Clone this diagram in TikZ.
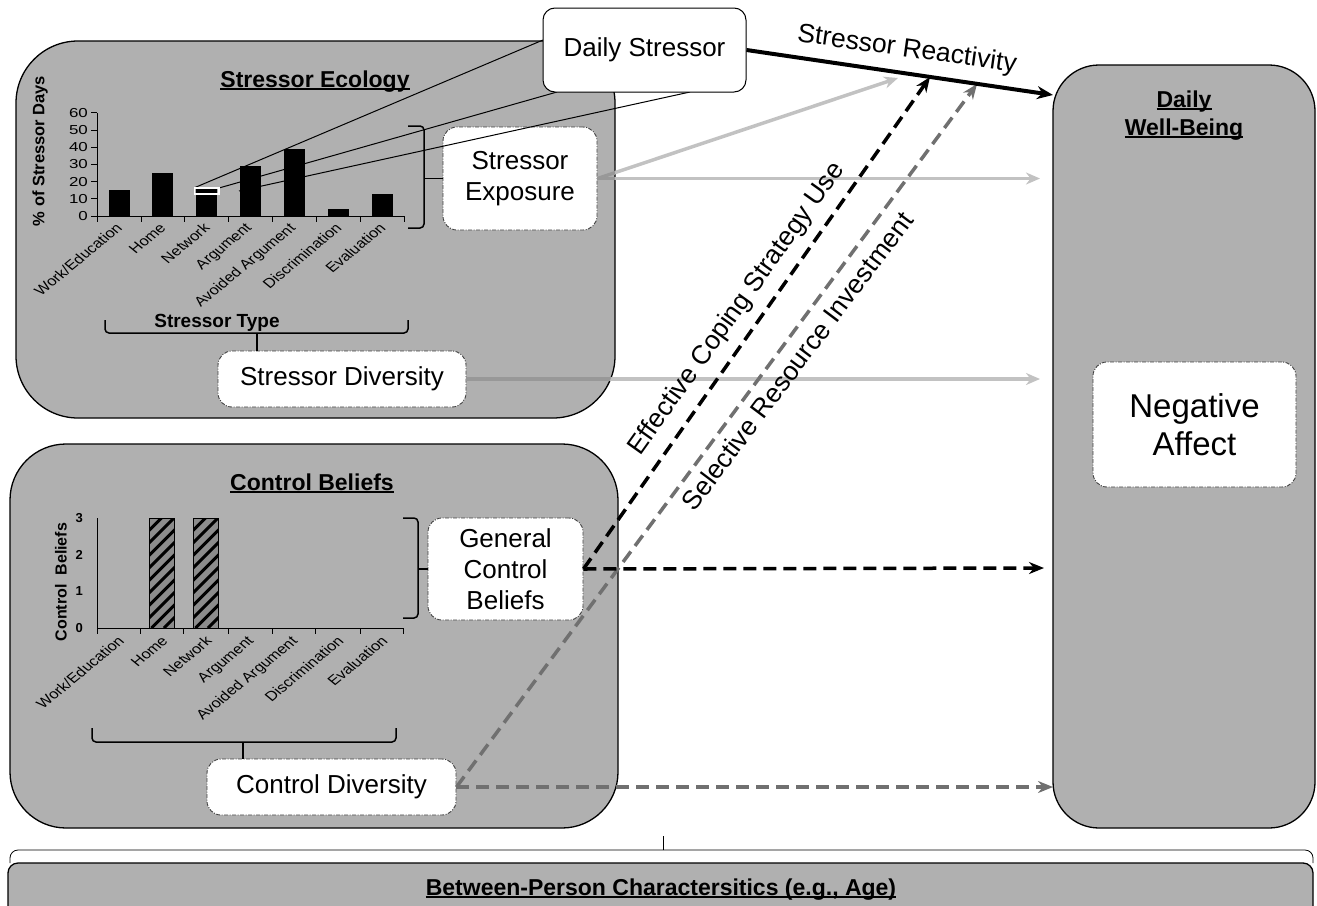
\documentclass[tikz,border=0pt]{standalone}
\usepackage{fontspec}
\setmainfont{Liberation Sans}
\usetikzlibrary{arrows.meta}
\definecolor{boxgray}{RGB}{176,176,176}
\definecolor{lightarr}{RGB}{194,194,194}
\definecolor{lightarrdark}{RGB}{152,152,152}
\definecolor{dashgray}{RGB}{112,112,112}
\definecolor{hatchgray}{RGB}{140,140,140}
\newcommand{\myul}[1]{\setbox0=\hbox{#1}\rlap{\rule[-3pt]{\wd0}{1.6pt}}\box0}
\newcommand{\catrot}[1]{\scalebox{1.22}[1]{\rotatebox{45}{#1}}}
\newcommand{\catlabels}[2]{%
  \node[catlbl] (#2a) at ({118.5+#1},#2) {\catrot{Work/Education}};
  \node[catlbl] (#2b) at ({162+#1},#2) {\catrot{Home}};
  \node[catlbl] (#2c) at ({206+#1},#2) {\catrot{Network}};
  \node[catlbl] (#2d) at ({250+#1},#2) {\catrot{Argument}};
  \node[catlbl] (#2e) at ({294+#1},#2) {\catrot{Avoided Argument}};
  \node[catlbl] (#2f) at ({338+#1},#2) {\catrot{Discrimination}};
  \node[catlbl] (#2g) at ({382+#1},#2) {\catrot{Evaluation}};
}
\begin{document}
\begin{tikzpicture}[x=1pt,y=-1pt,
  grp/.style={draw=black, line width=1.3pt, fill=boxgray},
  dbox/.style={draw=black!75, fill=white, rounded corners=14pt, line width=0.9pt,
    dash pattern=on 4pt off 1.5pt on 1pt off 1.5pt, align=center,
    font=\fontsize{26}{31}\selectfont, inner sep=0pt},
  sbox/.style={draw=black, fill=white, rounded corners=12pt, line width=1pt,
    font=\fontsize{26}{31}\selectfont, inner sep=0pt},
  title/.style={font=\bfseries\fontsize{23}{28}\selectfont, anchor=base, inner sep=0pt},
  catlbl/.style={font=\fontsize{13.5}{13.5}\selectfont, anchor=north east, inner sep=0pt},
  tick/.style={font=\fontsize{13}{13}\selectfont, anchor=east, inner sep=1pt},
  btick/.style={font=\bfseries\fontsize{13}{13}\selectfont, anchor=east, inner sep=1pt},
  axlbl/.style={font=\bfseries\fontsize{16.5}{16.5}\selectfont, rotate=90, inner sep=0pt},
  brace/.style={line width=1.5pt, rounded corners=4pt},
  lightarrow/.style={draw=lightarr, line width=3.5pt, -{Stealth[length=14pt,width=12pt]}},
  blkdash/.style={draw=black, line width=3.5pt, dash pattern=on 13pt off 7pt, -{Stealth[length=15pt,width=12pt]}},
  graydash/.style={draw=dashgray, line width=3.5pt, dash pattern=on 13pt off 7pt, -{Stealth[length=15pt,width=12pt]}},
  arrlbl/.style={font=\fontsize{26.5}{26.5}\selectfont, inner sep=0pt}
]
\useasboundingbox (0,0) rectangle (1317,905);
\clip (0,0) rectangle (1317,905);

% ---------- large grey panels ----------
\draw[grp, rounded corners=62pt] (16,41) rectangle (615,418);
\draw[grp, rounded corners=56pt] (10,444) rectangle (618,828);
\draw[grp, rounded corners=46pt] (1053,65) rectangle (1315,828);
\draw[grp, rounded corners=10pt] (8,863) rectangle (1313,940);

% ---------- titles ----------
\node[title] (t1) at (315,87) {\myul{Stressor Ecology}};
\node[title] (t2) at (312,490) {\myul{Control Beliefs}};
\node[title] (t3) at (1184,107) {\myul{Daily}};
\node[title] (t4) at (1184,135) {\myul{Well-Being}};
\node[title] (t5) at (661,895) {\myul{Between-Person Charactersitics (e.g., Age)}};

% ---------- white concept boxes ----------
\node[dbox, minimum width=154pt, minimum height=103pt] (se) at (520,178.5) {Stressor\\Exposure};
\node[dbox, minimum width=248pt, minimum height=56pt] (sd) at (342,379) {Stressor Diversity};
\node[dbox, minimum width=155pt, minimum height=102pt] (gcb) at (505.5,569) {General\\Control\\Beliefs};
\node[dbox, minimum width=249pt, minimum height=56pt] (cd) at (331.5,787) {Control Diversity};
\node[dbox, minimum width=203pt, minimum height=125pt, font=\fontsize{33}{38}\selectfont] (na) at (1194.5,424.5) {Negative\\Affect};

% ---------- lines from Daily Stressor to the chart ----------
\coordinate (dsA) at (543,40);
\coordinate (dsB) at (557,92);
\coordinate (dsC) at (690,92);
\coordinate (nw1) at (195,187.5);
\coordinate (nw2) at (219,188);
\coordinate (nw3) at (239,191);
\draw[line width=1pt] (nw1) -- (dsA);
\draw[line width=1pt] (nw2) -- (dsB);
\draw[line width=1pt] (nw3) -- (dsC);

% ---------- chart 1: stressor ecology ----------
\draw[line width=1pt] (97,113) -- (97,216) -- (404,216);
\foreach \v in {0,...,6} {
  \draw[line width=1pt] (91,{216-17.2*\v}) -- (97,{216-17.2*\v});
  \node[tick] (ya\v) at (89,{216-17.2*\v}) {\scalebox{1.3}[1]{\the\numexpr\v*10\relax}};
}
\foreach \x in {97,141,184,228,272,316,360,404}
  \draw[line width=1pt] (\x,216) -- (\x,222);
\foreach \c/\v in {119/15,162.5/25,250/29,294/39,338/4,382/13}
  \fill[black] ({\c-10.5},216) rectangle ({\c+10.5},{216-1.72*\v});
\fill[black] (196,216) rectangle (217,187.5);
\draw[white, line width=1.3pt] (194.5,188) rectangle (219,194);
\node[axlbl] (yl1) at (40,151) {\% of Stressor Days};
\catlabels{5}{222}
\node[title, font=\bfseries\fontsize{19}{19}\selectfont] (stype) at (217,327) {Stressor Type};

% brace to Stressor Exposure
\draw[brace] (408,126) -| (424,178.5) |- (408,228);
\draw[line width=1.5pt] (424,178.5) -- (se.west);
% brace to Stressor Diversity
\draw[brace] (105,320) |- (257,333) -| (408,320);
\draw[line width=1.5pt] (257,333) -- (sd.north -| 257,333);

% ---------- chart 2: control beliefs ----------
\draw[line width=1pt] (97,518) -- (97,628) -- (403,628);
\foreach \x in {97,140,183,228,272,315,360,403}
  \draw[line width=1pt] (\x,628) -- (\x,634);
\foreach \v in {0,...,3}
  \node[btick] (yb\v) at (84,{628-36.7*\v}) {\v};
\foreach \xa in {149,193} {
  \begin{scope}
    \clip (\xa,518) rectangle ({\xa+25},628);
    \fill[hatchgray] (\xa,518) rectangle ({\xa+25},628);
    \foreach \k in {0,...,11}
      \draw[line width=3pt] ({\xa-110+\k*12.5},628) -- ({\xa+\k*12.5},518);
  \end{scope}
  \draw[line width=1pt] (\xa,518) rectangle ({\xa+25},628);
}
\node[axlbl, font=\bfseries\fontsize{16}{16}\selectfont] (yl2) at (61,582) {Control\ \ Beliefs};
\catlabels{7}{635}

% brace to General Control Beliefs
\draw[brace] (403,518) -| (418,569) |- (403,618);
\draw[line width=1.5pt] (418,569) -- (gcb.west);
% brace to Control Diversity
\draw[brace] (92,728) |- (243,742) -| (396,728);
\draw[line width=1.5pt] (243,742) -- (cd.north -| 243,742);

% ---------- between-person brace ----------
\draw[line width=0.8pt, rounded corners=8pt] (10,863) |- (663,850) -| (1313,863);
\draw[line width=0.8pt] (663,850) -- (663,836);

% ---------- Daily Stressor ----------
\node[sbox, minimum width=203pt, minimum height=84pt] (ds) at (644.5,50) {Daily Stressor};

% ---------- arrow end points ----------
\coordinate (wbR) at (1053,95);
\coordinate (wbSE) at (1040,178.5);
\coordinate (wbSD) at (1040,379);
\coordinate (wbGCB) at (1044,568);
\coordinate (wbCD) at (1053,787);
\coordinate (sr1) at (898,78);
\coordinate (sr2) at (930,77);
\coordinate (sr3) at (977,84);

% light grey arrows
\draw[lightarrow] (se.east) -- (wbSE);
\draw[lightarrow] (se.east) -- (sr1);
\draw[lightarrow] (sd.east) -- (wbSD);
\begin{scope}
  \clip[rounded corners=62pt] (16,41) rectangle (615,418);
  \draw[draw=lightarrdark, line width=3.5pt] (se.east) -- (wbSE);
  \draw[draw=lightarrdark, line width=3.5pt] (se.east) -- (sr1);
  \draw[draw=lightarrdark, line width=3.5pt] (sd.east) -- (wbSD);
\end{scope}

% dashed arrows
\draw[graydash] (cd.east) -- (sr3);
\draw[graydash] (cd.east) -- (wbCD);
\draw[blkdash] (gcb.east) -- (sr2);
\draw[blkdash] (gcb.east) -- (wbGCB);

% stressor reactivity
\draw[line width=4pt, -{Stealth[length=16pt,width=13pt]}] (ds.east) -- (wbR);

% ---------- arrow labels ----------
\node[arrlbl, rotate=-8] (lsr) at (907,50) {Stressor Reactivity};
\node[arrlbl, rotate=54.5] (lec) at (737,309) {Effective Coping Strategy Use};
\node[arrlbl, rotate=53] (lsri) at (797,361) {Selective Resource Investment};
\end{tikzpicture}
\end{document}
